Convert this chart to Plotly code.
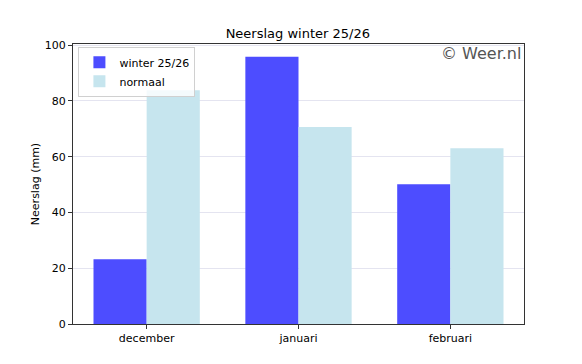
import plotly.graph_objects as go

months = ["december", "januari", "februari"]
winter = [23.2, 95.8, 50.1]
normaal = [83.8, 70.6, 63.0]
yticks = [0, 20, 40, 60, 80, 100]

fig = go.Figure()
fig.add_trace(go.Bar(x=months, y=winter, name="winter 25/26",
                     marker=dict(color="rgb(77,77,255)", line=dict(width=0))))
fig.add_trace(go.Bar(x=months, y=normaal, name="normaal",
                     marker=dict(color="rgb(198,229,238)", line=dict(width=0))))

fig.update_layout(
    width=566, height=348,
    margin=dict(l=65, r=50, t=36, b=32),
    paper_bgcolor="white", plot_bgcolor="white",
    barmode="group", bargap=0.3, bargroupgap=0,
    font=dict(family="DejaVu Sans", size=11, color="black"),
    title=dict(text="Neerslag winter 25/26", x=0.512, xanchor="center", y=0.928, yanchor="middle",
               font=dict(size=13)),
    showlegend=True,
    legend=dict(x=0.012, y=0.99, xanchor="left", yanchor="top",
                bgcolor="rgba(255,255,255,0.8)", bordercolor="#d0d0d0", borderwidth=1,
                font=dict(size=11), tracegroupgap=0, itemwidth=30,
                ),
    xaxis=dict(range=[-0.485, 2.485], showgrid=False, showline=True, linecolor="#333",
               linewidth=1, mirror=True, ticks="outside", ticklen=4, tickcolor="#333"),
    yaxis=dict(range=[0, 100.4], tickvals=yticks, showgrid=True, gridcolor="#e4e4f0",
               gridwidth=1, layer="above traces", zeroline=False, showline=True,
               linecolor="#333", linewidth=1, mirror=True, ticks="outside", ticklen=4,
               tickcolor="#333", title=dict(text="Neerslag (mm)", standoff=2, font=dict(size=11))),
)
fig.add_annotation(text="© Weer.nl", xref="paper", yref="paper", x=0.998, y=0.966,
                   xanchor="right", yanchor="middle", showarrow=False,
                   font=dict(size=16, color="#555"))
fig.write_html("out.html")
